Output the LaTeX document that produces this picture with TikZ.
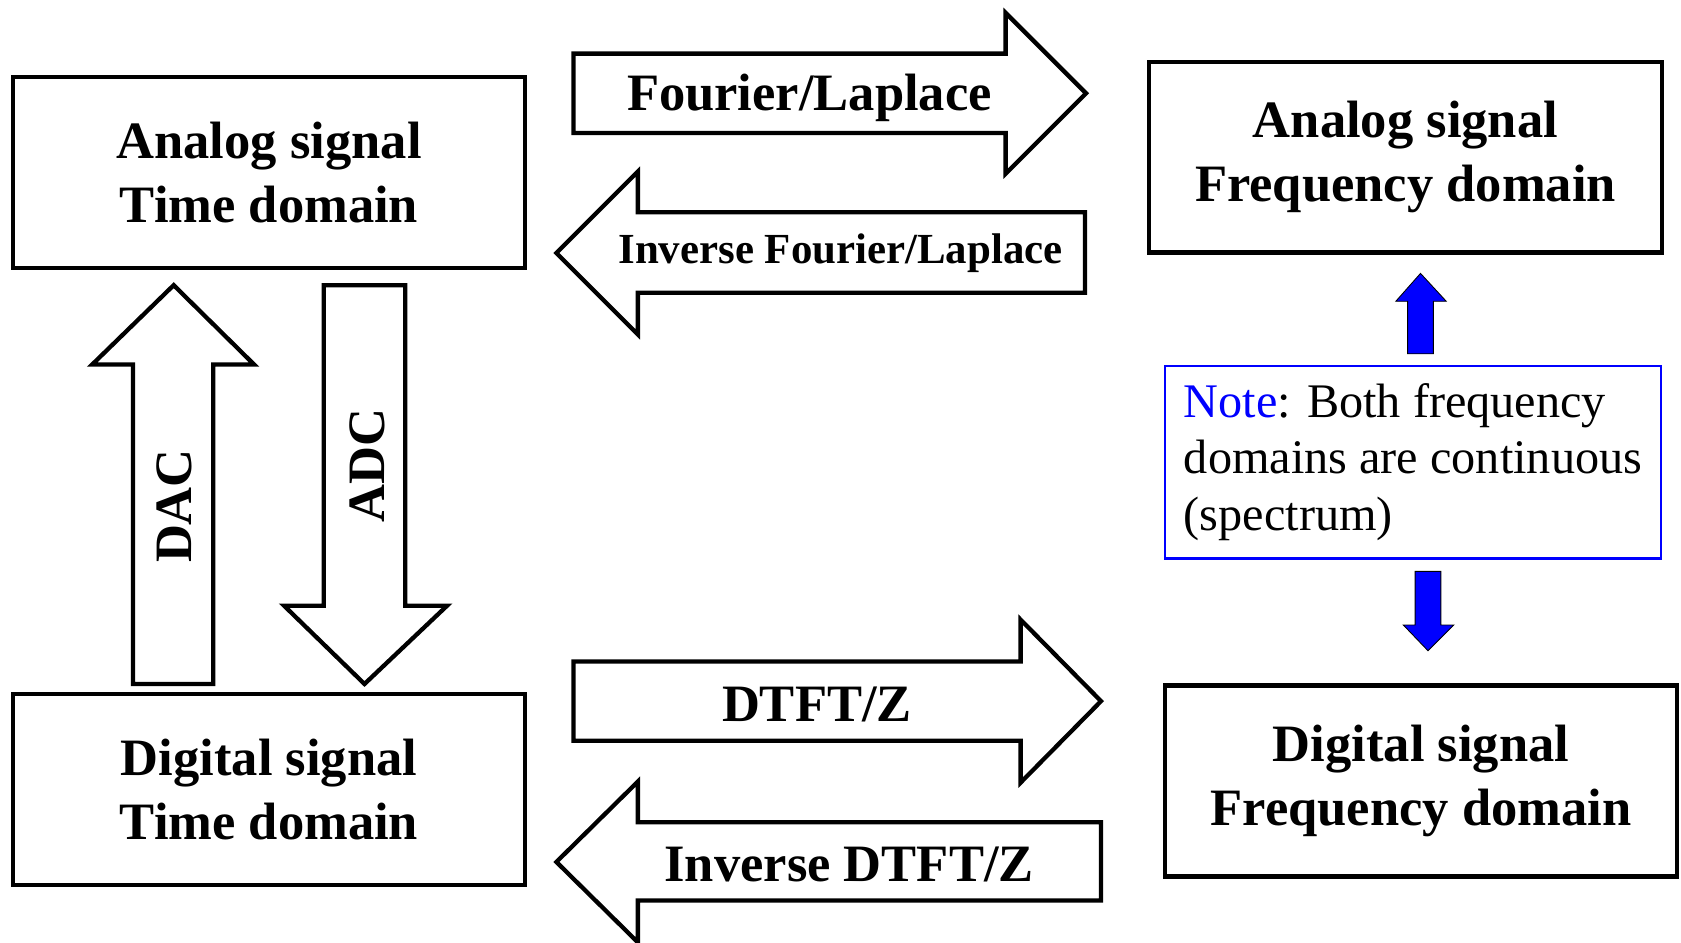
\documentclass[tikz,border=0pt]{standalone}
\usepackage{fontspec}
\setmainfont{Liberation Serif}
\begin{document}
\begin{tikzpicture}[x=0.5pt, y=-0.5pt,
  domainbox/.style={draw, line width=2pt, minimum width=239pt, minimum height=89pt, align=center, font=\fontsize{24.5}{30}\selectfont\bfseries},
  blockarrow/.style={draw, line width=2pt, line join=miter, fill=white},
  bluearrow/.style={fill=blue},
  arrowtext/.style={font=\fontsize{24.5}{30}\selectfont\bfseries}]
\useasboundingbox (0,0) rectangle (1568,879);

% the four domains
\node[domainbox] (atime) at (251,161) {Analog signal\\Time domain};
\node[domainbox] (afreq) at (1311,146.5) {Analog signal\\Frequency domain};
\node[domainbox] (dtime) at (251,736.5) {Digital signal\\Time domain};
\node[domainbox] (dfreq) at (1325.5,728.5) {Digital signal\\Frequency domain};

% analog transforms
\draw[blockarrow] (535,50) -- (938,50) -- (938,12) -- (1013,87) -- (938,162) -- (938,124) -- (535,124) -- cycle;
\node[arrowtext] (fourier) at (755,91) {Fourier/Laplace};
\draw[blockarrow] (1012,198) -- (595,198) -- (595,160) -- (519,236) -- (595,312) -- (595,273) -- (1012,273) -- cycle;
\node[font=\fontsize{20}{24}\selectfont\bfseries] (ifourier) at (784,236) {Inverse Fourier/Laplace};

% digital transforms
\draw[blockarrow] (535,617) -- (952,617) -- (952,578) -- (1027,654) -- (952,730) -- (952,691) -- (535,691) -- cycle;
\node[arrowtext] (dtft) at (762,657) {DTFT/Z};
\draw[blockarrow] (1027,767) -- (595,767) -- (595,729) -- (519,804) -- (595,879) -- (595,840) -- (1027,840) -- cycle;
\node[arrowtext] (idtft) at (792,806) {Inverse DTFT/Z};

% conversion between time domains
\draw[blockarrow] (124,638) -- (124,340) -- (86,340) -- (162,266) -- (237,340) -- (199,340) -- (199,638) -- cycle;
\node[arrowtext, rotate=90] (dac) at (163,472) {DAC};
\draw[blockarrow] (302,266) -- (378,266) -- (378,565) -- (417,565) -- (340,638) -- (265,565) -- (302,565) -- cycle;
\node[arrowtext, rotate=90] (adc) at (343,434) {ADC};

% note between the frequency domains
\node[draw=blue, line width=1pt, minimum width=231pt, minimum height=90pt, align=left, font=\fontsize{22.5}{26.5}\selectfont] (note) at (1318,431) {\textcolor{blue}{Note}: Both frequency\\domains are continuous\\(spectrum)};
\draw[bluearrow] (1313,330) -- (1313,281) -- (1302,281) -- (1325,255) -- (1349,281) -- (1337,281) -- (1337,330) -- cycle;
\draw[bluearrow] (1320,533) -- (1344,533) -- (1344,583) -- (1356,583) -- (1332,607) -- (1309,583) -- (1320,583) -- cycle;
\end{tikzpicture}
\end{document}
